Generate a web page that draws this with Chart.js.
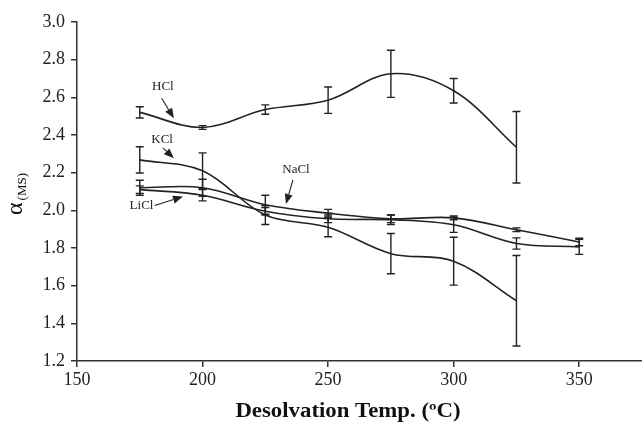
<!DOCTYPE html>
<html><head><meta charset="utf-8">
<script src="https://cdn.jsdelivr.net/npm/chart.js@4"></script>
<style>html,body{margin:0;padding:0;background:#fff}#wrap{width:642px;height:424px;position:relative}</style>
</head><body><div id="wrap"><canvas id="c"></canvas></div>
<script>
// ---- data ----
const temps = [175, 200, 225, 250, 275, 300, 325, 350];
const hclVals  = [2.52, 2.44, 2.535, 2.585, 2.725, 2.635, 2.335];
const hclErr   = [0.03, 0.01, 0.025, 0.07, 0.125, 0.065, 0.19];
const kclVals  = [2.268, 2.21, 1.975, 1.91, 1.77, 1.73, 1.52];
const kclErr   = [0.07, 0.095, 0.05, 0.05, 0.107, 0.127, 0.24];
const naclVals = [2.12, 2.12, 2.03, 1.985, 1.955, 1.96, 1.897, 1.832];
const naclErr  = [0.04, 0.045, 0.05, 0.02, 0.02, 0.01, 0.01, 0.02];
const liclVals = [2.11, 2.08, 1.995, 1.955, 1.95, 1.923, 1.824, 1.806];
const liclErr  = [0.02, 0.03, 0.02, 0.02, 0.025, 0.04, 0.03, 0.04];
const seriesNames = ['HCl', 'KCl', 'NaCl', 'LiCl'];
const xTicks = [150, 200, 250, 300, 350];
const yTicks = [1.2, 1.4, 1.6, 1.8, 2.0, 2.2, 2.4, 2.6, 2.8, 3.0];
const xTitle = 'Desolvation Temp. (\u00baC)';
const yTitleMain = '\u03b1';
const yTitleSub = '(MS)';

// label callouts (data coordinates): text position, arrow start, arrow tip
const callouts = [
  { text: 'HCl',  tx: 184.2, ty: 2.655, fx: 183.7, fy: 2.595, px: 188.6, py: 2.489 },
  { text: 'KCl',  tx: 183.9, ty: 2.374, fx: 184.2, fy: 2.332, px: 188.6, py: 2.277 },
  { text: 'NaCl', tx: 237.2, ty: 2.215, fx: 236.0, fy: 2.162, px: 233.2, py: 2.034 },
  { text: 'LiCl', tx: 175.7, ty: 2.024, fx: 181.0, fy: 2.026, px: 192.2, py: 2.073 }
];

const INK = '#222';
const SERIF = "'Liberation Serif', 'Times New Roman', serif";

function mk(vals, errs, name) {
  return {
    label: name,
    data: vals.map((v, i) => ({ x: temps[i], y: v })),
    errs: errs,
    borderColor: INK,
    borderWidth: 1.6,
    pointRadius: 0,
    tension: 0.35,
    fill: false
  };
}

const errorBars = {
  id: 'errorBars',
  afterDatasetsDraw(chart) {
    const ctx = chart.ctx, ys = chart.scales.y;
    ctx.save();
    ctx.strokeStyle = INK;
    ctx.lineWidth = 1.4;
    chart.data.datasets.forEach((ds, di) => {
      const meta = chart.getDatasetMeta(di);
      meta.data.forEach((pt, i) => {
        const v = ds.data[i].y, e = ds.errs[i];
        const y1 = ys.getPixelForValue(v + e), y2 = ys.getPixelForValue(v - e);
        const x = pt.x;
        ctx.beginPath();
        ctx.moveTo(x, y1); ctx.lineTo(x, y2);
        ctx.moveTo(x - 4, y1); ctx.lineTo(x + 4, y1);
        ctx.moveTo(x - 4, y2); ctx.lineTo(x + 4, y2);
        ctx.stroke();
      });
    });
    ctx.restore();
  }
};

const decorations = {
  id: 'decorations',
  afterDraw(chart) {
    const ctx = chart.ctx, xs = chart.scales.x, ys = chart.scales.y;
    ctx.save();
    // callouts
    ctx.font = '13px ' + SERIF;
    ctx.fillStyle = INK;
    ctx.strokeStyle = INK;
    ctx.lineWidth = 1.1;
    ctx.textAlign = 'center';
    ctx.textBaseline = 'middle';
    callouts.forEach(c => {
      const tx = xs.getPixelForValue(c.tx), ty = ys.getPixelForValue(c.ty);
      ctx.fillText(c.text, tx, ty);
      const fx = xs.getPixelForValue(c.fx), fy = ys.getPixelForValue(c.fy);
      const px = xs.getPixelForValue(c.px), py = ys.getPixelForValue(c.py);
      const ang = Math.atan2(py - fy, px - fx);
      const L = 10, W = 4;
      const bx = px - L * Math.cos(ang), by = py - L * Math.sin(ang);
      ctx.beginPath(); ctx.moveTo(fx, fy); ctx.lineTo(bx, by); ctx.stroke();
      ctx.beginPath();
      ctx.moveTo(px, py);
      ctx.lineTo(bx + W * Math.sin(ang), by - W * Math.cos(ang));
      ctx.lineTo(bx - W * Math.sin(ang), by + W * Math.cos(ang));
      ctx.closePath(); ctx.fill();
    });
    // x title (slightly wide, as in the reference)
    ctx.save();
    ctx.font = 'bold 20px ' + SERIF;
    ctx.fillStyle = '#111';
    ctx.textAlign = 'center';
    ctx.textBaseline = 'alphabetic';
    ctx.translate(348, 417);
    ctx.scale(1.14, 1);
    ctx.fillText(xTitle, 0, 0);
    ctx.restore();
    // y title (rotated, with subscript)
    ctx.fillStyle = '#111';
    ctx.translate(22, 215);
    ctx.rotate(-Math.PI / 2);
    ctx.textAlign = 'left';
    ctx.textBaseline = 'alphabetic';
    ctx.font = '24px ' + SERIF;
    ctx.fillText(yTitleMain, 0, 0);
    const w = ctx.measureText(yTitleMain).width;
    ctx.font = '13px ' + SERIF;
    ctx.fillText(yTitleSub, w + 2, 4);
    ctx.restore();
  }
};

const tickFont = { family: SERIF, size: 18 };

new Chart(document.getElementById('c'), {
  type: 'line',
  data: {
    datasets: [
      mk(hclVals, hclErr, seriesNames[0]),
      mk(kclVals, kclErr, seriesNames[1]),
      mk(naclVals, naclErr, seriesNames[2]),
      mk(liclVals, liclErr, seriesNames[3])
    ]
  },
  options: {
    responsive: true,
    maintainAspectRatio: false,
    animation: false,
    layout: { padding: { top: 22, right: 0, left: 0, bottom: 0 } },
    plugins: { legend: { display: false }, tooltip: { enabled: false } },
    scales: {
      x: {
        type: 'linear', min: 150, max: 375,
        afterBuildTicks: s => { s.ticks = xTicks.map(v => ({ value: v })); },
        afterFit: s => { s.height = 63; },
        grid: { display: true, drawOnChartArea: false, drawTicks: true, tickLength: 6, color: '#333', lineWidth: 1.5 },
        border: { display: true, color: '#333', width: 1.5 },
        ticks: { font: tickFont, color: INK, padding: 2, maxRotation: 0 }
      },
      y: {
        type: 'linear', min: 1.2, max: 3.0,
        afterBuildTicks: s => { s.ticks = yTicks.map(v => ({ value: v })); },
        afterFit: s => { s.width = 77; },
        grid: { display: true, drawOnChartArea: false, drawTicks: true, tickLength: 6, color: '#333', lineWidth: 1.5 },
        border: { display: true, color: '#333', width: 1.5 },
        ticks: { font: tickFont, color: INK, padding: 6, callback: v => Number(v).toFixed(1) }
      }
    }
  },
  plugins: [errorBars, decorations]
});
</script></body></html>
